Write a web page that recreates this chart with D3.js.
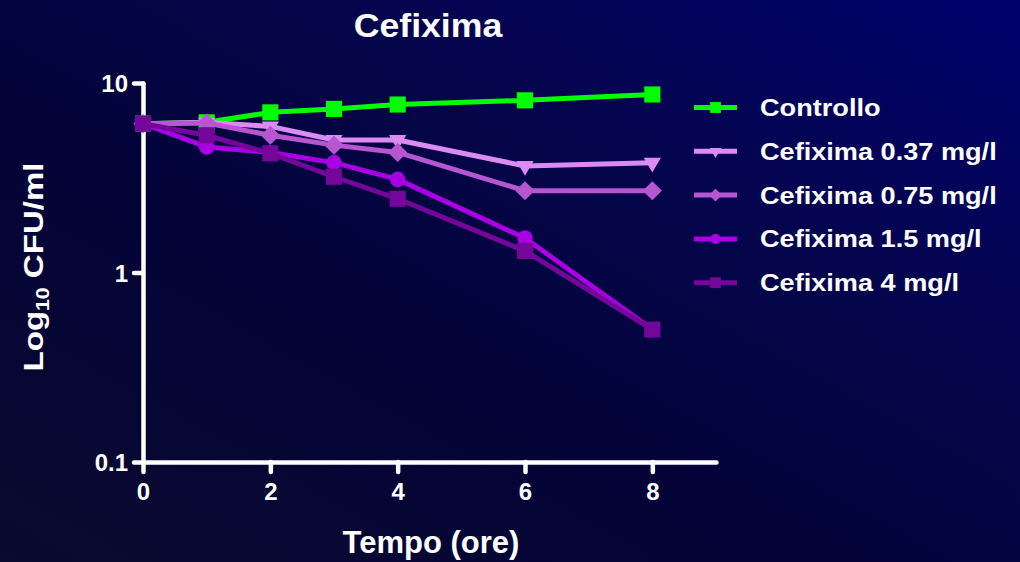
<!DOCTYPE html>
<html>
<head>
<meta charset="utf-8">
<script src="https://cdn.jsdelivr.net/npm/d3@7/dist/d3.min.js"></script>
<style>
  html, body { margin: 0; padding: 0; background: #02022e; }
  svg { display: block; }
  text { font-family: "Liberation Sans", Arial, Helvetica, sans-serif; font-weight: bold; fill: #ffffff; }
</style>
</head>
<body>
<svg id="chart" width="1020" height="562"></svg>
<script>
// Time points (hours)
const hours = [0, 1, 2, 3, 4, 6, 8];

// Bacterial counts per series
const controllo = [6.1, 6.2, 7.0, 7.3, 7.7, 8.1, 8.7];
const cef037   = [6.1, 6.2, 5.9, 5.0, 5.0, 3.65, 3.8];
const cef075   = [6.1, 6.15, 5.3, 4.7, 4.3, 2.7, 2.7];
const cef15    = [6.1, 4.6, 4.3, 3.8, 3.1, 1.52, 0.5];
const cef4     = [6.1, 5.3, 4.25, 3.2, 2.45, 1.3, 0.5];

const seriesNames = ["Controllo", "Cefixima 0.37 mg/l", "Cefixima 0.75 mg/l", "Cefixima 1.5 mg/l", "Cefixima 4 mg/l"];
const seriesValues = [controllo, cef037, cef075, cef15, cef4];
const seriesColors = ["#00ff00", "#dc8af4", "#b656d0", "#a800e2", "#74079a"];
const seriesSymbols = ["square", "triangleDown", "diamond", "circle", "square"];

const xTicks = [0, 2, 4, 6, 8];
const yTicks = [0.1, 1, 10];

const svg = d3.select("#chart");
const W = 1020, H = 562;

// Background gradient
const defs = svg.append("defs");
const grad = defs.append("linearGradient")
  .attr("id", "bg").attr("x1", 0).attr("y1", 1).attr("x2", 1).attr("y2", 0);
grad.append("stop").attr("offset", "0").attr("stop-color", "#0a0a30");
grad.append("stop").attr("offset", "0.4").attr("stop-color", "#030338");
grad.append("stop").attr("offset", "0.68").attr("stop-color", "#05054e");
grad.append("stop").attr("offset", "1").attr("stop-color", "#00006c");
svg.append("rect").attr("width", W).attr("height", H).attr("fill", "url(#bg)");

// Scales
const x = d3.scaleLinear().domain([0, 9]).range([143, 716]);
const y = d3.scaleLog().domain([0.1, 10]).range([462, 83]);

// Title
svg.append("text")
  .attr("transform", `translate(428,37) scale(1.08,1)`)
  .attr("text-anchor", "middle")
  .attr("font-size", 33)
  .text("Cefixima");

// Axes
const xAxis = d3.axisBottom(x).tickValues(xTicks).tickFormat(d3.format("d")).tickSize(10).tickSizeOuter(0).tickPadding(8);
const yAxis = d3.axisLeft(y).tickValues(yTicks).tickFormat(d => d < 1 ? "0.1" : String(d)).tickSize(9).tickSizeOuter(0).tickPadding(6);

const gx = svg.append("g").attr("transform", `translate(0,${y(0.1)})`).call(xAxis);
const gy = svg.append("g").attr("transform", `translate(${x(0)},0)`).call(yAxis);

[gx, gy].forEach(g => {
  g.select(".domain").attr("stroke", "#ffffff").attr("stroke-width", 4.5).attr("stroke-linecap", "round");
  g.selectAll(".tick line").attr("stroke", "#ffffff").attr("stroke-width", 4.5).attr("stroke-linecap", "round");
  g.selectAll(".tick text")
    .attr("fill", "#ffffff")
    .attr("font-size", 24)
    .attr("font-weight", "bold")
    .attr("font-family", "Liberation Sans, Arial, sans-serif");
});
gx.selectAll(".tick text").attr("dy", "0.85em");
gy.selectAll(".tick text").attr("dy", "0.36em");

// Axis titles
svg.append("text")
  .attr("x", 431).attr("y", 553)
  .attr("text-anchor", "middle")
  .attr("font-size", 31)
  .text("Tempo (ore)");

const yLab = svg.append("text")
  .attr("transform", "translate(43,267) rotate(-90) scale(1.18,1)")
  .attr("text-anchor", "middle")
  .attr("font-size", 28);
yLab.append("tspan").text("Log");
yLab.append("tspan").attr("font-size", 18).attr("dy", 6).text("10");
yLab.append("tspan").attr("dy", -6).text(" CFU/ml");

// Marker shapes (diamond = square turned 45 degrees)
const symbolTypes = {
  square: d3.symbolSquare,
  circle: d3.symbolCircle,
  diamond: d3.symbolSquare,
  triangleDown: d3.symbolTriangle
};
const symbolSizes = { square: 260, circle: 190, diamond: 185, triangleDown: 128 };
const symbolRotation = { square: 0, circle: 0, diamond: 45, triangleDown: 180 };

function markerPath(kind, scale) {
  return d3.symbol().type(symbolTypes[kind]).size(symbolSizes[kind] * scale)();
}
function markerTransform(kind, px, py) {
  return `translate(${px},${py}) rotate(${symbolRotation[kind]})`;
}

const line = d3.line().x(d => x(d[0])).y(d => y(d[1]));

seriesValues.forEach((vals, i) => {
  const pts = hours.map((h, j) => [h, vals[j]]);
  const g = svg.append("g");
  g.append("path")
    .attr("d", line(pts))
    .attr("fill", "none")
    .attr("stroke", seriesColors[i])
    .attr("stroke-width", 5)
    .attr("stroke-linejoin", "round");
  g.selectAll("path.mk").data(pts).enter().append("path")
    .attr("class", "mk")
    .attr("d", markerPath(seriesSymbols[i], 1))
    .attr("transform", d => markerTransform(seriesSymbols[i], x(d[0]), y(d[1])))
    .attr("fill", seriesColors[i]);
});

// Legend
const legY0 = 107.5, legStep = 43.8;
seriesNames.forEach((name, i) => {
  const cy = legY0 + i * legStep;
  const g = svg.append("g");
  g.append("line")
    .attr("x1", 694).attr("x2", 737).attr("y1", cy).attr("y2", cy)
    .attr("stroke", seriesColors[i]).attr("stroke-width", 5);
  g.append("path")
    .attr("d", markerPath(seriesSymbols[i], 0.45))
    .attr("transform", markerTransform(seriesSymbols[i], 715.5, cy))
    .attr("fill", seriesColors[i]);
  g.append("text")
    .attr("transform", `translate(760,${cy + 8.5}) scale(1.18,1)`)
    .attr("font-size", 23)
    .text(name);
});
</script>
</body>
</html>
